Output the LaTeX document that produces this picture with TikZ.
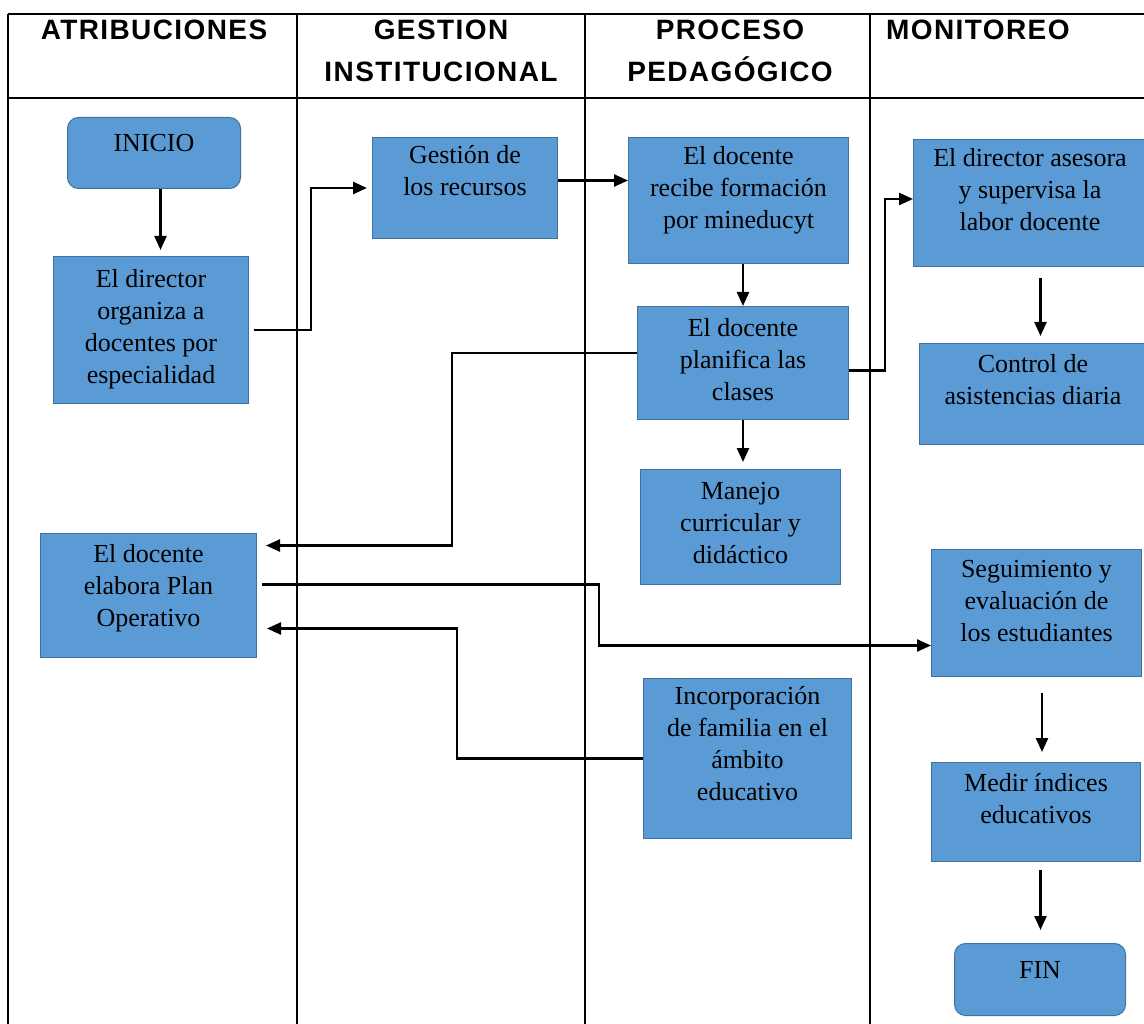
\documentclass[tikz,border=0pt]{standalone}
\usepackage{fontspec}
\setmainfont{Liberation Serif}
\newfontfamily\headfont[LetterSpace=5]{Liberation Sans}
\usetikzlibrary{arrows.meta}

\definecolor{azulcaja}{HTML}{5B9BD5}
\definecolor{azulborde}{HTML}{41719C}

\newcommand{\texto}[4][5pt]{\parbox[c][#3][t]{#2}{\centering\fontsize{26}{32}\selectfont\vspace*{#1}\strut #4\par}}

\tikzset{
	caja/.style={draw=azulborde, fill=azulcaja, line width=1pt, inner sep=0pt, anchor=north west},
	cajar/.style={caja, rounded corners=11pt},
	flecha/.style={-{Triangle[length=14pt,width=12pt]}, line width=2.4pt},
	carril/.style={line width=2.6pt},
	cabecera/.style={font={\headfont\bfseries\fontsize{28}{42}\selectfont}, align=center, inner sep=0pt}
}

\begin{document}
\begin{tikzpicture}[x=1pt, y=-1pt]
	\useasboundingbox (0,0) rectangle (1144,1024);

	\draw[carril] (8,14) -- (1144,14);
	\draw[carril] (8,98) -- (1144,98);
	\foreach \xc in {8,297,585,870}
		\draw[carril] (\xc,14) -- (\xc,1024);

	\node[cabecera] (hatrib) at (154,30) {ATRIBUCIONES};
	\node[cabecera] (hgestion) at (441,51) {GESTION\\INSTITUCIONAL};
	\node[cabecera] (hproceso) at (730,51) {PROCESO\\PEDAGÓGICO};
	\node[cabecera, anchor=west] (hmonitoreo) at (886,30) {MONITOREO};

	\draw (67,117) node[cajar](inicio){\texto[12pt]{173pt}{71pt}{INICIO}};
	\draw (53,256) node[caja](director){\texto[9pt]{195pt}{147pt}{El director\\organiza a\\docentes por\\especialidad}};
	\draw (40,533) node[caja](plan){\texto[7pt]{216pt}{124pt}{El docente\\elabora Plan\\Operativo}};

	\draw (372,137) node[caja](gestion){\texto[4pt]{185pt}{101pt}{Gestión de\\los recursos}};

	\draw (628,137) node[caja](recibe){\texto[5pt]{220pt}{126pt}{El docente\\recibe formación\\por mineducyt}};
	\draw (637,306) node[caja](planifica){\texto[8pt]{211pt}{113pt}{El docente\\planifica las\\clases}};
	\draw (640,469) node[caja](manejo){\texto[8pt]{200pt}{115pt}{Manejo\\curricular y\\didáctico}};
	\draw (643,678) node[caja](familia){\texto[4pt]{208pt}{160pt}{Incorporación\\de familia en el\\ámbito\\educativo}};

	\draw (913,139) node[caja](asesora){\texto[5pt]{233pt}{127pt}{El director asesora\\y supervisa la\\labor docente}};
	\draw (919,343) node[caja](control){\texto[7pt]{227pt}{101pt}{Control de\\asistencias diaria}};
	\draw (931,549) node[caja](seguimiento){\texto[6pt]{210pt}{127pt}{Seguimiento y\\evaluación de\\los estudiantes}};
	\draw (931,762) node[caja](medir){\texto[7pt]{209pt}{99pt}{Medir índices\\educativos}};
	\draw (954,943) node[cajar](fin){\texto[13pt]{171pt}{72pt}{FIN}};

	\draw[flecha, shorten >=6pt] ([xshift=6.5pt]inicio.south) -- ([xshift=6.5pt]inicio.south |- director.north);
	\draw[flecha, shorten <=5pt, shorten >=5pt] (director.east) -- ++(62,0) |- (gestion.west);
	\draw[flecha] ([yshift=7.5pt]gestion.east) -- ([yshift=7.5pt]gestion.east -| recibe.west);
	\draw[flecha] (recibe.south -| planifica.north) -- (planifica.north);
	\draw[flecha, shorten >=9pt] ([yshift=10pt]planifica.west) -- ++(-185,0) |- ([yshift=50pt]plan.east);
	\draw[flecha] ([yshift=-7.5pt]planifica.east) -- ++(36,0) |- ([yshift=4pt]asesora.west);
	\draw[flecha, shorten >=7pt] (planifica.south) -- (planifica.south |- manejo.north);
	\draw[flecha, shorten <=11pt, shorten >=7pt] ([xshift=10.5pt]asesora.south) -- ([xshift=10.5pt]asesora.south |- control.north);
	\draw[flecha, shorten <=5pt] ([yshift=11pt]plan.east) -- ++(342,0) |- ([yshift=-32.5pt]seguimiento.west);
	\draw[flecha, shorten >=10pt] (familia.west) -- ++(-186,0) |- ([yshift=-33pt]plan.east);
	\draw[flecha, shorten <=16pt, shorten >=10pt] ([xshift=5.5pt]seguimiento.south) -- ([xshift=5.5pt]seguimiento.south |- medir.north);
	\draw[flecha, shorten <=8pt, shorten >=13pt] ([xshift=4.5pt]medir.south) -- ([xshift=4.5pt]medir.south |- fin.north);
\end{tikzpicture}
\end{document}
